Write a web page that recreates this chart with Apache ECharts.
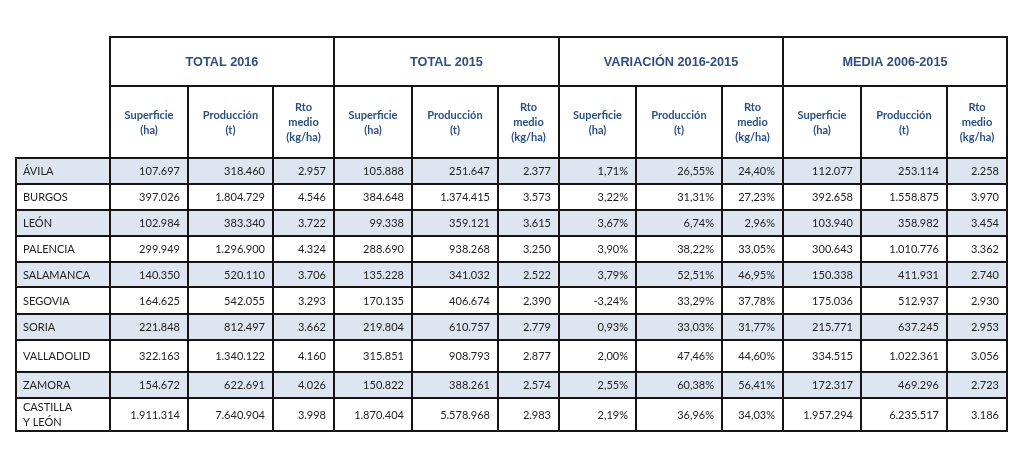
<!DOCTYPE html>
<html>
<head>
<meta charset="utf-8">
<script src="https://cdn.jsdelivr.net/npm/echarts@6/dist/echarts.min.js"></script>
<style>html,body{margin:0;padding:0;background:#fff;}#c{width:1024px;height:463px;}</style>
</head>
<body>
<div id="c"></div>
<script>
// ---------- DATA ----------
const provinces = ['ÁVILA','BURGOS','LEÓN','PALENCIA','SALAMANCA','SEGOVIA','SORIA','VALLADOLID','ZAMORA','CASTILLA\nY LEÓN'];
const groupTitles = ['TOTAL 2016','TOTAL 2015','VARIACIÓN 2016-2015','MEDIA 2006-2015'];
const subHeaders = ['Superficie\n(ha)','Producción\n(t)','Rto\nmedio\n(kg/ha)'];

const sup2016  = [107697, 397026, 102984, 299949, 140350, 164625, 221848, 322163, 154672, 1911314];
const prod2016 = [318460, 1804729, 383340, 1296900, 520110, 542055, 812497, 1340122, 622691, 7640904];
const rto2016  = [2957, 4546, 3722, 4324, 3706, 3293, 3662, 4160, 4026, 3998];

const sup2015  = [105888, 384648, 99338, 288690, 135228, 170135, 219804, 315851, 150822, 1870404];
const prod2015 = [251647, 1374415, 359121, 938268, 341032, 406674, 610757, 908793, 388261, 5578968];
const rto2015  = [2377, 3573, 3615, 3250, 2522, 2390, 2779, 2877, 2574, 2983];

const varSup  = [1.71, 3.22, 3.67, 3.90, 3.79, -3.24, 0.93, 2.00, 2.55, 2.19];
const varProd = [26.55, 31.31, 6.74, 38.22, 52.51, 33.29, 33.03, 47.46, 60.38, 36.96];
const varRto  = [24.40, 27.23, 2.96, 33.05, 46.95, 37.78, 31.77, 44.60, 56.41, 34.03];

const supMed  = [112077, 392658, 103940, 300643, 150338, 175036, 215771, 334515, 172317, 1957294];
const prodMed = [253114, 1558875, 358982, 1010776, 411931, 512937, 637245, 1022361, 469296, 6235517];
const rtoMed  = [2258, 3970, 3454, 3362, 2740, 2930, 2953, 3056, 2723, 3186];

// ---------- LAYOUT (table geometry, not data) ----------
const colWidths = [94, 78,85,61, 78,86,61, 77,86,61, 78,86,60];
const rowHeights = [49, 72, 26,26,26,26,25,27,26,32,26,33];
const shadedRows = [0,2,4,6,8];

function fmtNum(n){ return String(n).replace(/\B(?=(\d{3})+(?!\d))/g,'.'); }
function fmtPct(p){ return p.toFixed(2).replace('.',',') + '%'; }

const groups = [
  [sup2016, prod2016, rto2016, fmtNum],
  [sup2015, prod2015, rto2015, fmtNum],
  [varSup, varProd, varRto, fmtPct],
  [supMed, prodMed, rtoMed, fmtNum]
];

const colEdges = [0]; colWidths.forEach(w => colEdges.push(colEdges[colEdges.length-1] + w));
const rowEdges = [0]; rowHeights.forEach(h => rowEdges.push(rowEdges[rowEdges.length-1] + h));
const totalW = colEdges[colEdges.length-1];
const totalH = rowEdges[rowEdges.length-1];

const cells = [];
function addCell(c0, c1, r0, r1, text, kind, fill){
  cells.push({ value: [colEdges[c0], colEdges[c1], rowEdges[r0], rowEdges[r1]], text, kind, fill });
}
// group headers
groupTitles.forEach((t, g) => addCell(1 + g*3, 4 + g*3, 0, 1, t, 'group', '#fff'));
// sub headers
groupTitles.forEach((t, g) => subHeaders.forEach((s, k) => addCell(1 + g*3 + k, 2 + g*3 + k, 1, 2, s, 'sub', '#fff')));
// body
provinces.forEach((p, i) => {
  const fill = shadedRows.indexOf(i) >= 0 ? '#dce5f0' : '#ffffff';
  addCell(0, 1, 2 + i, 3 + i, p, 'name', fill);
  groups.forEach((grp, g) => {
    for (let k = 0; k < 3; k++) {
      addCell(1 + g*3 + k, 2 + g*3 + k, 2 + i, 3 + i, grp[3](grp[k][i]), 'num', fill);
    }
  });
});

const styles = {
  group: { font: 'bold 12.7px "Liberation Sans", Arial, sans-serif', fill: '#2e4f82', align: 'center' },
  sub:   { font: 'bold 11px Lato, "Open Sans", sans-serif', fill: '#2a4f85', align: 'center' },
  name:  { font: '11px Lato, "Open Sans", sans-serif', fill: '#222222', align: 'left' },
  num:   { font: '11px Lato, "Open Sans", sans-serif', fill: '#222222', align: 'right' }
};

const chart = echarts.init(document.getElementById('c'), null, { renderer: 'canvas' });
chart.setOption({
  animation: false,
  grid: { left: 16, top: 37, width: totalW, height: totalH, show: false },
  xAxis: { type: 'value', min: 0, max: totalW, show: false },
  yAxis: { type: 'value', min: 0, max: totalH, inverse: true, show: false },
  series: [{
    type: 'custom',
    clip: false,
    data: cells,
    renderItem: function (params, api) {
      const c = cells[params.dataIndex];
      const p0 = api.coord([api.value(0), api.value(2)]);
      const p1 = api.coord([api.value(1), api.value(3)]);
      const x = p0[0], y = p0[1], w = p1[0] - p0[0], h = p1[1] - p0[1];
      const st = styles[c.kind];
      let tx;
      if (st.align === 'center') tx = x + w / 2;
      else if (st.align === 'left') tx = x + 7;
      else tx = x + w - 8;
      return {
        type: 'group',
        children: [
          { type: 'rect', shape: { x: x, y: y, width: w, height: h },
            style: { fill: c.fill, stroke: '#151515', lineWidth: 2 } },
          { type: 'text', z2: 10,
            style: { text: c.text, x: tx, y: y + h / 2 + 0.5, align: st.align, verticalAlign: 'middle',
                     font: st.font, fill: st.fill, lineHeight: 15 } }
        ]
      };
    }
  }]
});
</script>
</body>
</html>
